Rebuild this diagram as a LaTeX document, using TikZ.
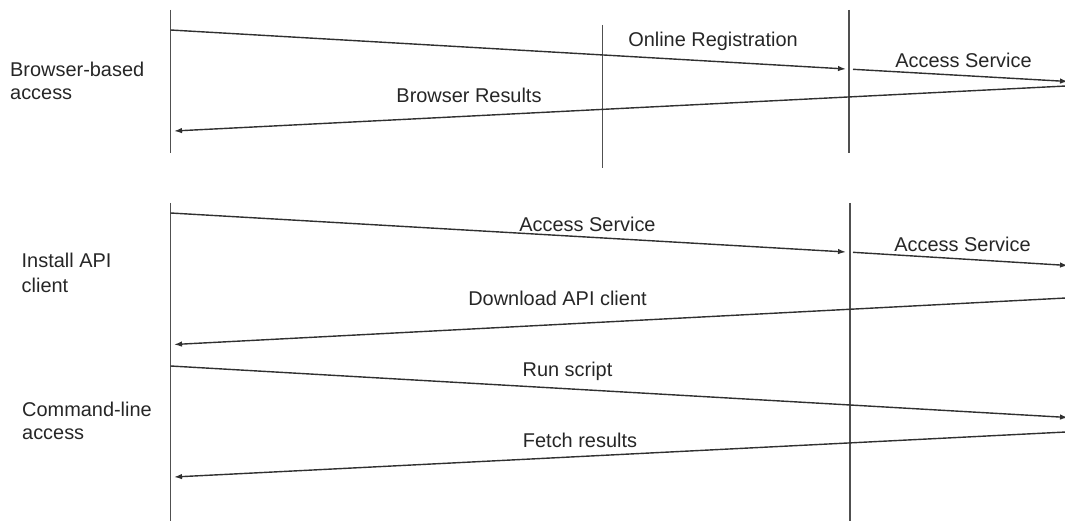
\documentclass[tikz,border=0pt]{standalone}
\usepackage{fontspec}
\setmainfont{Liberation Sans}
\usetikzlibrary{arrows.meta}
\definecolor{inkline}{HTML}{303030}
\definecolor{lifeline}{HTML}{505050}
\definecolor{inktext}{HTML}{262626}
\tikzset{
  life/.style={draw=lifeline, line width=1.6bp},
  msg/.style={draw=inkline, line width=1.4bp, -{Latex[length=8bp,width=5.5bp]}},
  msglabel/.style={font=\fontsize{20}{23}\selectfont, text=inktext, inner sep=0pt, anchor=base},
  sidelabel/.style={font=\fontsize{20}{23}\selectfont, text=inktext, inner sep=0pt, anchor=base west},
}
\begin{document}
\begin{tikzpicture}[x=1bp, y=-1bp]
\useasboundingbox (0,0) rectangle (1065,521);
\clip (0,0) rectangle (1065,521);

% ---- browser-based access: lifelines ----
\coordinate (uT) at (170.5,10);  \coordinate (uB) at (170.5,153);
\coordinate (rT) at (602.5,25);  \coordinate (rB) at (602.5,168);
\coordinate (sT) at (849,10);    \coordinate (sB) at (849,153);
\draw[life] (uT) -- (uB);
\draw[life] (rT) -- (rB);
\draw[life] (sT) -- (sB);

% messages
\coordinate (m1s) at (170.5,30);  \coordinate (m1e) at (846,69);
\coordinate (m2s) at (853,69.3);  \coordinate (m2e) at (1068,81.5);
\coordinate (m3s) at (1066,86);   \coordinate (m3e) at (174,131);
\draw[msg] (m1s) -- (m1e);
\draw[msg] (m2s) -- (m2e);
\draw[msg] (m3s) -- (m3e);
\node[msglabel] (l1) at (713,46.5) {Online Registration};
\node[msglabel] (l2) at (963.5,68) {Access Service};
\node[msglabel] (l3) at (469,102.5) {Browser Results};

\node[sidelabel] (s1a) at (10,77) {Browser-based};
\node[sidelabel] (s1b) at (10,100) {access};

% ---- API client / command line: lifelines ----
\coordinate (u2T) at (170.5,203); \coordinate (u2B) at (170.5,523);
\coordinate (s2T) at (850,203);   \coordinate (s2B) at (850,523);
\draw[life] (u2T) -- (u2B);
\draw[life] (s2T) -- (s2B);

% messages
\coordinate (m4s) at (170.5,213); \coordinate (m4e) at (846,252);
\coordinate (m5s) at (853,252.3); \coordinate (m5e) at (1068,265.5);
\coordinate (m6s) at (1066,298);  \coordinate (m6e) at (174,344.5);
\coordinate (m7s) at (170.5,366); \coordinate (m7e) at (1068,417.5);
\coordinate (m8s) at (1066,432);  \coordinate (m8e) at (174,477);
\draw[msg] (m4s) -- (m4e);
\draw[msg] (m5s) -- (m5e);
\draw[msg] (m6s) -- (m6e);
\draw[msg] (m7s) -- (m7e);
\draw[msg] (m8s) -- (m8e);
\node[msglabel] (l4) at (587.5,232) {Access Service};
\node[msglabel] (l5) at (962.5,252) {Access Service};
\node[msglabel] (l6) at (557.5,305.5) {Download API client};
\node[msglabel] (l7) at (567.5,377) {Run script};
\node[msglabel] (l8) at (580,447) {Fetch results};

\node[sidelabel] (s2a) at (21.5,268) {Install API};
\node[sidelabel] (s2b) at (21.5,293) {client};
\node[sidelabel] (s3a) at (22,416) {Command-line};
\node[sidelabel] (s3b) at (22,439) {access};
\end{tikzpicture}
\end{document}
